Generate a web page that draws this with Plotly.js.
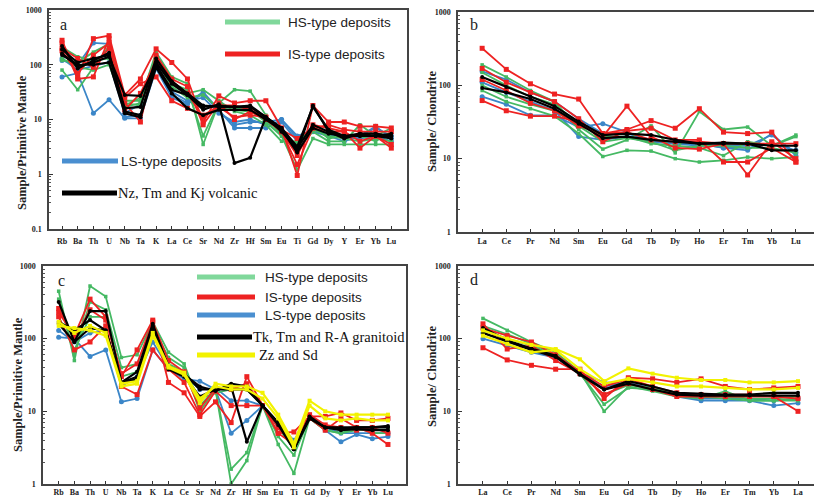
<!DOCTYPE html>
<html><head><meta charset="utf-8">
<script src="https://cdn.plot.ly/plotly-3.0.1.min.js"></script>
<style>html,body{margin:0;padding:0;background:#fff}#plot{width:814px;height:499px}</style>
</head><body><div id="plot"></div>
<script>
// ---------- categories ----------
const traceElems = ['Rb','Ba','Th','U','Nb','Ta','K','La','Ce','Sr','Nd','Zr','Hf','Sm','Eu','Ti','Gd','Dy','Y','Er','Yb','Lu'];
const reeB = ['La','Ce','Pr','Nd','Sm','Eu','Gd','Tb','Dy','Ho','Er','Tm','Yb','Lu'];
const reeD = ['La','Ce','Pr','Nd','Sm','Eu','Gd','Tb','Dy','Ho','Er','Tm','Yb','La'];

// ---------- panel a: primitive-mantle normalised (deposits + volcanic) ----------
const aLS1 = [60,70,13,23,10.5,10.5,85,25,19,30,14,8,9,9,10,4.5,6.5,5,4,5,7.5,4.5];
const aLS2 = [120,100,250,240,11,12,90,28,20,32,15,7,7,7,10,5,6.5,5.5,4.5,5,7,5];
const aLS3 = [130,80,95,110,13,19,105,32,22,25,13,9,10,8,9,4,6,5,5,4.5,5,4];
const aHS1 = [80,35,90,220,22,22,170,60,45,3.5,20,35,33,12,5,1.2,4.5,3.5,3.5,3.5,3.5,3.5];
const aHS2 = [120,110,170,240,20,18,150,45,35,5,20,16,15,9,5,2.8,6,4,4,8,5,7];
const aHS3 = [210,140,120,130,18,25,140,50,30,35,22,14,12,8,4,4,6.5,5,4.5,4,4.5,4];
const aHS4 = [130,90,80,100,17,20,120,40,25,28,16,15,14,10,5.5,3.5,7.5,4.5,5,5,4,6];
const aIS1 = [280,60,300,340,28,55,195,110,55,9,27,20,22,22,7,0.95,18,9,9,7.5,7.5,7];
const aIS2 = [250,55,60,300,25,45,60,22,16,12,17,11,12,11,6,2.2,8,7,6,3,5,3];
const aIS3 = [200,130,90,200,20,9,150,55,40,8,20,10,14,10,6,1.5,7,6,6,4,5,3.5];
const aIS4 = [180,70,150,250,15,30,120,50,30,11,18,18,15,11,6.5,4.5,7,8,6.5,6,6,6];
const aV1 = [220,85,120,165,14,12,110,45,28,17,18,17,18,11,7,2.6,18,6,5,5.5,5,5.5];
const aV2 = [160,95,110,140,28,27,100,35,28,15,19,1.6,2.0,11,7,3.2,17,6.5,5,5,5,5];
const aV3 = [190,110,130,150,16,17,130,50,30,18,17,17,17,11,6,3,8,6,4.5,5.5,5.5,5];
const aV4 = [150,100,100,110,13,11,90,30,16,12,15,15,15,10,6.5,2.5,7,5.5,5,5,5,4.5];

// ---------- panel b: chondrite normalised REE ----------
const bLS1 = [70,55,39,39,27,30,23,17,17,16,14,13,22,11];
const bLS2 = [155,120,80,60,35,22,22,18,16,15,15,15,21,12];
const bLS3 = [110,80,60,45,20,18,20,17,16,16,14,14,16,13];
const bHS1 = [190,130,85,60,25,13.5,18,28,12,44,25,27,15,21];
const bHS2 = [85,60,48,38,22,10.7,13,12.7,10,9,9.5,10.5,10,10.5];
const bHS3 = [150,100,70,55,30,20,20,16,15,14,11,17,15,20];
const bHS4 = [100,70,55,45,28,17,19,17,13,15,15,14,14,12];
const bIS1 = [320,165,105,76,65,22,25,33,26,48,23,22,23,9];
const bIS2 = [170,110,80,60,35,17,24,26,18,18,9,9,14,9];
const bIS3 = [62,45,38,38,32,20,52,20,14,13.5,16,6,17,10];
const bIS4 = [120,85,57,45,28,22,23,18,17,17,16,16,16,16];
const bV1 = [130,95,70,52,32,21,22,21,18,16,16,16,15,15];
const bV2 = [92,80,65,48,30,19,20,18,17,16,16.5,16,13,13];

// ---------- panel c: primitive-mantle normalised (deposits + granitoids) ----------
const cHS1 = [450,50,530,380,55,60,170,65,45,12,20,1.0,2.1,12,3.5,1.4,8,5.5,5,5.5,5.5,5.5];
const cHS2 = [350,60,320,250,40,45,150,55,40,10,20,1.6,2.7,12,4.5,2.5,8,5.5,5,6,5,5];
const cHS3 = [200,70,200,200,30,35,140,45,35,15,18,20,20,12,6,3,8,6,5.5,6,6,6];
const cIS1 = [230,110,350,200,30,70,180,25,18,8.5,13.5,7,30,12,5,5.2,8.5,8.5,9.5,7.5,7.5,8];
const cIS2 = [200,70,90,150,22,17,70,38,25,9,19,12,12,12,5,3.5,8,5.5,8,6,5,3.5];
const cIS3 = [260,100,250,180,33,45,170,50,35,11,21,20,24,12,6,3.5,9,6.5,6,5.5,6,5];
const cLS1 = [105,100,57,70,13.5,15,70,38,28,26,20,5,7.5,12,6,3.5,8,5.5,3.8,4.8,4.2,4.5];
const cLS2 = [130,90,120,130,22,30,90,40,32,20,21,14,14,12,6.5,4,8,6,5,5,5,5];
const cG1 = [320,90,240,240,25,35,160,40,32,22,19,24,22,12,7,3,8.5,6,6,6,6,6.3];
const cG2 = [170,130,180,130,25,30,150,38,30,16,20,22,3.8,12,6.5,3,8,6,5.5,5.7,5.5,5.5];
const cG3 = [160,90,140,130,24,28,140,42,33,20,20,20,20,12,7,3,8,6,5.8,6,6,6];
const cZ1 = [150,140,130,110,22,24,110,40,32,13,24,22,22,18,9,3.6,14,10,9,9,9,9];
const cZ2 = [170,120,150,120,24,26,120,42,34,15,22,20,20,15,8,3.2,12,8,7.5,8,7.5,7.5];

// ---------- panel d: chondrite normalised REE ----------
const dIS1 = [75,51,43,38,38,15,29,28,25,28,22,20,21,22];
const dIS2 = [160,72,80,50,33,17,24,20,16,16,16,16,16,10];
const dIS3 = [140,110,90,60,35,22,28,22,18,17,17,17,16,15];
const dHS1 = [190,130,90,65,35,10,22,19,16,15,19,14,14,15];
const dHS2 = [150,115,85,60,33,12.5,21,20,17,16,15,14,14,14];
const dHS3 = [130,100,80,58,32,17,23,21,18,17,16,15,15,16];
const dLS1 = [100,80,65,55,33,22,25,20,16,14,14,14,12,13];
const dLS2 = [120,90,70,58,34,25,24,21,17,15,15,15,14,15];
const dG1 = [140,95,73,58,33,20,26,22,18,17.5,17,17,18,18];
const dG2 = [120,92,70,56,32,20,24,20,17,16.5,16.5,16.5,16.5,16.5];
const dZ1 = [130,100,82,72,52,26,39,33,29,27,27,25,25,26];
const dZ2 = [110,85,65,70,38,24,28,25,22,22,21,20,20,21];

// ---------- styles ----------
const STY = {
  HS: {c:'#45b963', w:1.8, s:'square', m:3.5},
  IS: {c:'#ee2222', w:1.8, s:'square', m:5},
  LS: {c:'#3b86c8', w:1.8, s:'circle', m:5},
  BK: {c:'#000000', w:2.2, s:'circle', m:4},
  YL: {c:'#f2f200', w:2.2, s:'square', m:4}
};
function mk(yv, grp, xa, ya){
  const st = STY[grp];
  return {x: yv.map((_,i)=>i), y: yv, xaxis: xa, yaxis: ya, type:'scatter',
    mode:'lines+markers', line:{color:st.c, width:st.w},
    marker:{symbol:st.s, size:st.m, color:st.c}, showlegend:false, hoverinfo:'skip'};
}
const traces = [];
[aLS1,aLS2,aLS3].forEach(v=>traces.push(mk(v,'LS','x','y')));
[aHS1,aHS2,aHS3,aHS4].forEach(v=>traces.push(mk(v,'HS','x','y')));
[aIS1,aIS2,aIS3,aIS4].forEach(v=>traces.push(mk(v,'IS','x','y')));
[aV1,aV2,aV3,aV4].forEach(v=>traces.push(mk(v,'BK','x','y')));

[bLS1,bLS2,bLS3].forEach(v=>traces.push(mk(v,'LS','x2','y2')));
[bHS1,bHS2,bHS3,bHS4].forEach(v=>traces.push(mk(v,'HS','x2','y2')));
[bIS1,bIS2,bIS3,bIS4].forEach(v=>traces.push(mk(v,'IS','x2','y2')));
[bV1,bV2].forEach(v=>traces.push(mk(v,'BK','x2','y2')));

[cLS1,cLS2].forEach(v=>traces.push(mk(v,'LS','x3','y3')));
[cHS1,cHS2,cHS3].forEach(v=>traces.push(mk(v,'HS','x3','y3')));
[cIS1,cIS2,cIS3].forEach(v=>traces.push(mk(v,'IS','x3','y3')));
[cG1,cG2,cG3].forEach(v=>traces.push(mk(v,'BK','x3','y3')));
[cZ1,cZ2].forEach(v=>traces.push(mk(v,'YL','x3','y3')));

[dLS1,dLS2].forEach(v=>traces.push(mk(v,'LS','x4','y4')));
[dHS1,dHS2,dHS3].forEach(v=>traces.push(mk(v,'HS','x4','y4')));
[dIS1,dIS2,dIS3].forEach(v=>traces.push(mk(v,'IS','x4','y4')));
[dG1,dG2].forEach(v=>traces.push(mk(v,'BK','x4','y4')));
[dZ1,dZ2].forEach(v=>traces.push(mk(v,'YL','x4','y4')));

// ---------- axes ----------
const W = 814, H = 499;
const PX = x => x/W, PY = y => 1 - y/H;
const tickFont = {family:'Liberation Serif', size:8, color:'#222', weight:'bold'};
function xax(x0,x1,range,labels,anchor,standoff){
  return {domain:[PX(x0),PX(x1)], range:range, anchor:anchor, tickmode:'array',
    tickvals: labels.map((_,i)=>i), ticktext: labels, ticks:'inside', ticklen:3, tickwidth:1,
    tickcolor:'#333', showline:true, linecolor:'#444', linewidth:1.6, mirror:true,
    showgrid:false, zeroline:false, tickfont:tickFont, ticklabelstandoff:standoff, fixedrange:true};
}
function yax(y0,y1,lo,anchor,mirror){
  const tv=[], tt=[], mv=[];
  for(let e=lo;e<=3;e++){ tv.push(Math.pow(10,e)); tt.push(String(Math.pow(10,e))); }
  for(let e=lo;e<3;e++){ for(let k=2;k<=9;k++) mv.push(k*Math.pow(10,e)); }
  return {domain:[PY(y1),PY(y0)], type:'log', range:[lo,3], anchor:anchor, tickmode:'array',
    tickvals:tv, ticktext:tt, ticks:'inside', ticklen:4, tickcolor:'#333',
    minor:{tickmode:'array', tickvals:mv, ticks:'inside', ticklen:2, tickcolor:'#555', showgrid:false},
    showline:true, linecolor:'#444', linewidth:1.6, mirror:mirror, showgrid:false, zeroline:false,
    tickfont:tickFont, ticklabelstandoff:4, fixedrange:true};
}

// ---------- annotations / legend keys ----------
const ann = [], shp = [];
function label(x,y,t,opt){ ann.push(Object.assign({xref:'paper',yref:'paper',x:PX(x),y:PY(y),text:t,showarrow:false,xanchor:'left',yanchor:'middle'},opt||{})); }
function key(x0,x1,y,c){ shp.push({type:'line',xref:'paper',yref:'paper',x0:PX(x0),x1:PX(x1),y0:PY(y),y1:PY(y),line:{color:c,width:5}}); }
const sans = {family:'Liberation Sans', size:13.5, color:'#222'};
const serif = {family:'Liberation Serif', size:14.5, color:'#111'};
const titleF = {family:'Liberation Serif', size:12.5, color:'#222', weight:'bold'};
const letterF = {family:'Liberation Serif', size:16, color:'#222'};

label(58,24,'a',{font:letterF});
label(468,24,'b',{font:letterF});
label(56,280,'c',{font:letterF});
label(468,279,'d',{font:letterF});

label(22,143,'Sample/Primitive Mantle',{font:titleF,textangle:-90,xanchor:'center'});
label(432,121,'Sample/ Chondrite',{font:titleF,textangle:-90,xanchor:'center'});
label(18,385,'Sample/Primitive Mantle',{font:titleF,textangle:-90,xanchor:'center'});
label(432,376,'Sample/ Chondrite',{font:titleF,textangle:-90,xanchor:'center'});

// panel a legend
key(225,280,22,'#80d89b'); label(286,22,'HS-type deposits',{font:sans});
key(225,280,54,'#ee2222'); label(286,54,'IS-type deposits',{font:sans});
key(62,118,161,'#4a8fd0'); label(119,161,'LS-type deposits',{font:sans});
key(62,117,193,'#000000'); label(116,193,'Nz, Tm and Kj volcanic',{font:serif});
// panel c legend
key(197,255,277,'#80d89b'); label(263,277,'HS-type deposits',{font:sans});
key(197,255,297,'#ee2222'); label(263,297,'IS-type deposits',{font:sans});
key(197,255,315,'#4a8fd0'); label(263,315,'LS-type deposits',{font:sans});
key(197,252,337,'#000000'); label(251,337,'Tk, Tm and R-A granitoid',{font:serif});
key(197,255,355,'#f2f200'); label(257,355,'Zz and Sd',{font:serif});

const layout = {
  width:W, height:H, margin:{l:0,r:0,t:0,b:0}, paper_bgcolor:'#fff', plot_bgcolor:'rgba(0,0,0,0)',
  showlegend:false,
  xaxis: xax(49,407,[-0.83,22.0],traceElems,'y',4),
  yaxis: yax(10,229,-1,'x',true),
  xaxis2: xax(458,814,[-1,13.75],reeB,'y2',1),
  yaxis2: yax(12,232,0,'x2',false),
  xaxis3: xax(43,406,[-1.0,22.15],traceElems,'y3',0),
  yaxis3: yax(266,484,0,'x3',true),
  xaxis4: xax(458,814,[-1.03,13.66],reeD,'y4',0),
  yaxis4: yax(266,484,0,'x4',false),
  annotations: ann, shapes: shp
};
Plotly.newPlot('plot', traces, layout, {staticPlot:true, displayModeBar:false});
</script></body></html>
